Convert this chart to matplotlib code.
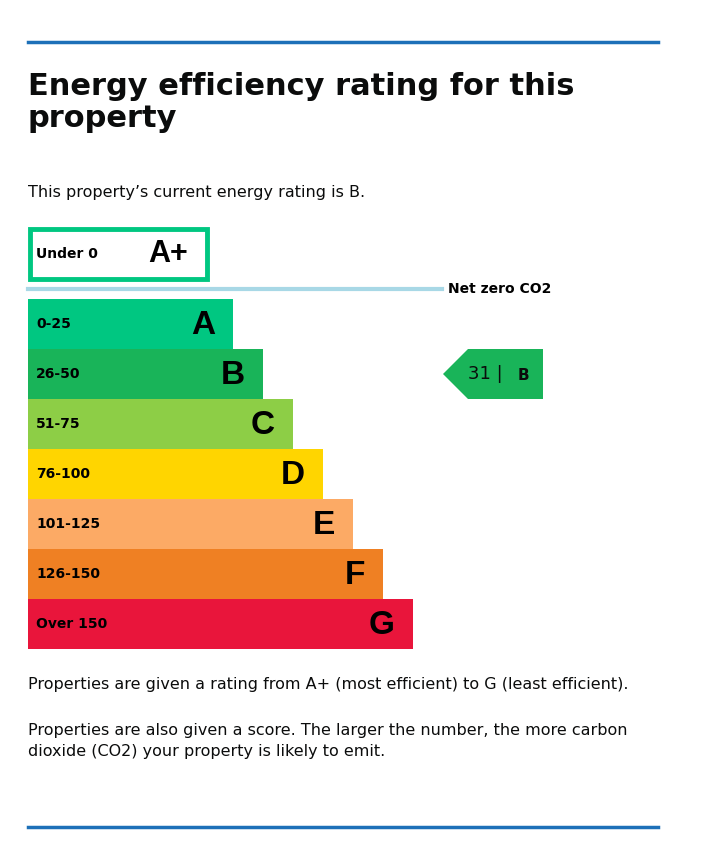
import matplotlib.pyplot as plt
from matplotlib.patches import Rectangle, Polygon

bands = ['A', 'B', 'C', 'D', 'E', 'F', 'G']
ranges = ['0-25', '26-50', '51-75', '76-100', '101-125', '126-150', 'Over 150']
lengths = [205, 235, 265, 295, 325, 355, 385]
colors = ['#00c781', '#19b459', '#8dce46', '#ffd500', '#fcaa65', '#ef8023', '#e9153b']
current_score = 31
current_band = 'B'

fig = plt.figure(figsize=(7.08, 8.55), dpi=100)
ax = fig.add_axes([0, 0, 1, 1])
ax.set_xlim(0, 708)
ax.set_ylim(855, 0)
ax.axis('off')

blue = '#1d70b8'
ax.plot([28, 658], [42, 42], color=blue, lw=2.5)
ax.plot([28, 658], [827, 827], color=blue, lw=2.5)

ax.text(28, 72, 'Energy efficiency rating for this\nproperty', fontsize=22, fontweight='bold',
        va='top', ha='left', color='#0b0c0c', linespacing=1.15)
ax.text(28, 192, 'This property\u2019s current energy rating is B.', fontsize=11.5,
        va='center', color='#0b0c0c')

# A+ box
ax.add_patch(Rectangle((30, 229), 177, 50, fill=False, ec='#00c781', lw=3.5))
ax.text(36, 254, 'Under 0', fontsize=10, fontweight='bold', va='center')
ax.text(168, 254, 'A+', fontsize=22, fontweight='bold', va='center', ha='center',
        family='Liberation Sans')

# net zero line
ax.plot([28, 442], [289, 289], color='#a8d8e6', lw=3)
ax.text(448, 289, 'Net zero CO2', fontsize=10, fontweight='bold', va='center')

centers = [324 + 50 * i for i in range(len(bands))]
ax.barh(centers, lengths, left=28, height=50, color=colors)
for c, L, b, r in zip(centers, lengths, bands, ranges):
    ax.text(36, c, r, fontsize=10, fontweight='bold', va='center')
    ax.text(28 + L - 18, c + 1, b, fontsize=24, fontweight='bold', va='center', ha='right',
            family='Liberation Sans')

# current rating arrow
ci = bands.index(current_band)
cy = centers[ci]
ax.add_patch(Polygon([(443, cy), (468, cy - 25), (543, cy - 25), (543, cy + 25), (468, cy + 25)],
                     closed=True, color=colors[ci], lw=0))
ax.text(468, cy, f'{current_score} |', fontsize=13, va='center', color='#0b0c0c')
ax.text(518, cy + 1, current_band, fontsize=11, fontweight='bold', va='center', color='#0b0c0c')

ax.text(28, 684, 'Properties are given a rating from A+ (most efficient) to G (least efficient).',
        fontsize=11.5, va='center', color='#0b0c0c')
ax.text(28, 741, 'Properties are also given a score. The larger the number, the more carbon\n'
        'dioxide (CO2) your property is likely to emit.', fontsize=11.5, va='center',
        color='#0b0c0c', linespacing=1.55)

fig.savefig('out.png', dpi=100)
